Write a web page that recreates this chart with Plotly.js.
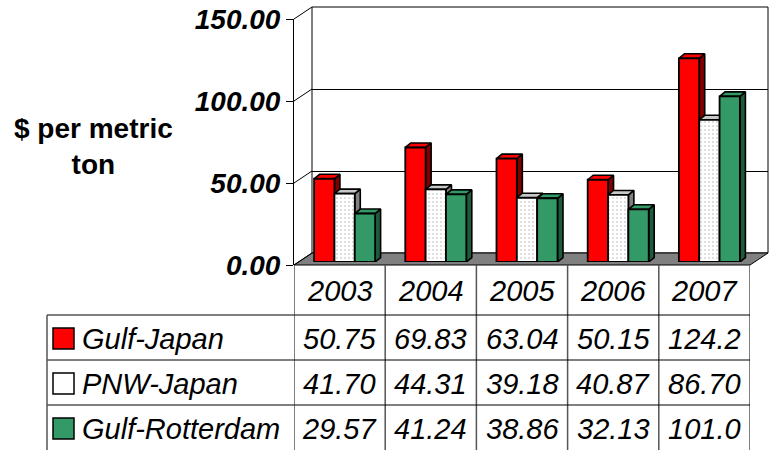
<!DOCTYPE html>
<html>
<head>
<meta charset="utf-8">
<script src="https://cdn.plot.ly/plotly-3.0.1.min.js"></script>
<style>
  html, body { margin: 0; padding: 0; background: #ffffff; }
  #chart { width: 771px; height: 450px; }
</style>
</head>
<body>
<div id="chart"></div>
<script>
// Ocean freight, $ per metric ton
const years = ['2003', '2004', '2005', '2006', '2007'];
const gulfJapan = [50.75, 69.83, 63.04, 50.15, 124.2];
const pnwJapan = [41.70, 44.31, 39.18, 40.87, 86.70];
const gulfRotterdam = [29.57, 41.24, 38.86, 32.13, 101.0];
const seriesNames = ['Gulf-Japan', 'PNW-Japan', 'Gulf-Rotterdam'];
const yTicks = [0, 50, 100, 150];
const yMax = 150;

const W = 771, H = 450;
const FONT = "'Liberation Sans', Arial, sans-serif";

// pixel frame of the 3-D box (front plane of the floor / axis)
const front = { x0: 294, x1: 750, yBase: 265, yTop: 19 };
const barPlane = { dx: 5, dy: 3 };   // bar fronts stand a little inside the floor
const backPlane = { dx: 18, dy: 12 }; // back wall offset
const depth = { dx: 5.5, dy: 4.5 };   // thickness of each bar
const pxPerCat = (front.x1 - front.x0) / years.length;
const pxPerUnit = (front.yBase - front.yTop) / yMax;

const px = p => p / W;
const py = p => 1 - p / H;
function planeDomain(dx, dy) {
  return {
    x: [px(front.x0 + dx), px(front.x1 + dx)],
    y: [py(front.yBase - dy), py(front.yTop - dy)]
  };
}
const dBack = planeDomain(backPlane.dx, backPlane.dy);
const dBars = planeDomain(barPlane.dx, barPlane.dy);
const dFront = planeDomain(0, 0);

// bar layout inside each year
const barW = 0.223;
const offsets = [-1.5 * barW, -0.5 * barW, 0.5 * barW];

const seriesValues = [gulfJapan, pnwJapan, gulfRotterdam];
const faceColors = ['#ff0000', '#ffffff', '#339966'];
const topColors = ['#ff0000', '#c8c8c8', '#339966'];
const sideColors = ['#800000', '#808080', '#1e5a3c'];

const traces = [];

// empty traces so the back wall and front axis subplots are drawn
traces.push({ type: 'scatter', x: [], y: [], xaxis: 'x', yaxis: 'y', hoverinfo: 'skip', showlegend: false });

// top and side faces of every bar (drawn before the fronts)
const ddx = depth.dx / pxPerCat;
const ddy = depth.dy / pxPerUnit;
seriesValues.forEach((vals, s) => {
  const sx = [], sy = [], tx = [], ty = [];
  vals.forEach((v, i) => {
    const left = i + offsets[s];
    const right = left + barW;
    sx.push(right, right + ddx, right + ddx, right, right, null);
    sy.push(0, ddy, v + ddy, v, 0, null);
    tx.push(left, left + ddx, right + ddx, right, left, null);
    ty.push(v, v + ddy, v + ddy, v, v, null);
  });
  const common = { type: 'scatter', mode: 'lines', fill: 'toself', xaxis: 'x2', yaxis: 'y2',
    line: { color: '#000000', width: 1.6 }, hoverinfo: 'skip', showlegend: false };
  traces.push(Object.assign({ x: sx, y: sy, fillcolor: sideColors[s] }, common));
  traces.push(Object.assign({ x: tx, y: ty, fillcolor: topColors[s] }, common));
});

// front faces
seriesValues.forEach((vals, s) => {
  const marker = { color: faceColors[s], line: { color: '#000000', width: 1.8 } };
  if (s === 1) {
    marker.pattern = { shape: '.', fgcolor: '#b4b4b4', bgcolor: '#ffffff', size: 4, solidity: 0.12, fillmode: 'replace' };
  }
  traces.push({
    type: 'bar', name: seriesNames[s], x: years, y: vals,
    width: barW, offset: offsets[s], marker: marker,
    xaxis: 'x3', yaxis: 'y3', cliponaxis: false, showlegend: false, hoverinfo: 'x+y'
  });
});

traces.push({ type: 'scatter', x: [], y: [], xaxis: 'x4', yaxis: 'y4', hoverinfo: 'skip', showlegend: false });

const hidden = { visible: false, fixedrange: true };

const shapes = [];
// back wall
shapes.push({ type: 'rect', xref: 'paper', yref: 'paper', layer: 'below',
  x0: dBack.x[0], x1: dBack.x[1], y0: dBack.y[0], y1: dBack.y[1],
  fillcolor: '#ffffff', line: { color: '#000000', width: 1 } });
// floor
const fl = [[front.x0, front.yBase], [front.x1, front.yBase],
            [front.x1 + backPlane.dx, front.yBase - backPlane.dy], [front.x0 + backPlane.dx, front.yBase - backPlane.dy]];
shapes.push({ type: 'path', xref: 'paper', yref: 'paper', layer: 'below',
  path: 'M' + fl.map(p => px(p[0]) + ',' + py(p[1])).join(' L') + ' Z',
  fillcolor: '#808080', line: { color: '#000000', width: 1 } });
// gridlines running across the open left wall
yTicks.forEach(v => {
  const yf = front.yBase - v * pxPerUnit;
  shapes.push({ type: 'line', xref: 'paper', yref: 'paper',
    x0: px(front.x0), y0: py(yf), x1: px(front.x0 + backPlane.dx), y1: py(yf - backPlane.dy),
    line: { color: '#000000', width: 1 } });
});

// data table
const tableLeft = 47, tableBottom = 452;
const rowEdges = [315, 360, 405];
const headerMid = 291;
const rowMids = [338.5, 383.5, 428.5];
for (let i = 0; i <= years.length; i++) {
  shapes.push({ type: 'line', xref: 'x4', yref: 'paper',
    x0: i - 0.5, x1: i - 0.5, y0: py(front.yBase), y1: py(tableBottom),
    line: { color: '#555555', width: 1.5 } });
}
rowEdges.forEach(y => {
  shapes.push({ type: 'line', xref: 'paper', yref: 'paper',
    x0: px(tableLeft), x1: px(front.x1), y0: py(y), y1: py(y),
    line: { color: '#000000', width: 1 } });
});
shapes.push({ type: 'line', xref: 'paper', yref: 'paper',
  x0: px(tableLeft), x1: px(tableLeft), y0: py(rowEdges[0]), y1: py(tableBottom),
  line: { color: '#555555', width: 1.5 } });
// legend keys
rowMids.forEach((y, s) => {
  shapes.push({ type: 'rect', xref: 'paper', yref: 'paper',
    x0: px(53), x1: px(74), y0: py(y - 10.5), y1: py(y + 10.5),
    fillcolor: faceColors[s], line: { color: '#000000', width: 1.5 } });
});

const italic = { family: FONT, size: 29, style: 'italic', color: '#000000' };
const annotations = [];
years.forEach((yr, i) => {
  annotations.push({ xref: 'x4', yref: 'paper', x: i, y: py(headerMid), text: yr,
    showarrow: false, xanchor: 'center', yanchor: 'middle', font: italic });
  seriesValues.forEach((vals, s) => {
    annotations.push({ xref: 'x4', yref: 'paper', x: i, y: py(rowMids[s]),
      text: vals[i].toPrecision(4), showarrow: false, xanchor: 'center', yanchor: 'middle', font: italic });
  });
});
seriesNames.forEach((n, s) => {
  annotations.push({ xref: 'paper', yref: 'paper', x: px(80), y: py(rowMids[s]), text: n,
    showarrow: false, xanchor: 'left', yanchor: 'middle', font: italic });
});
annotations.push({ xref: 'paper', yref: 'paper', x: px(93), y: py(146),
  text: '$ per metric<br>ton', showarrow: false, xanchor: 'center', yanchor: 'middle', align: 'center',
  font: { family: FONT, size: 28, weight: 'bold', color: '#000000' } });

const layout = {
  width: W, height: H,
  margin: { l: 0, r: 0, t: 0, b: 0, pad: 0 },
  paper_bgcolor: '#ffffff', plot_bgcolor: 'rgba(0,0,0,0)',
  showlegend: false, barmode: 'overlay',
  xaxis: Object.assign({ anchor: 'y', domain: dBack.x, range: [-0.5, 4.5] }, hidden),
  yaxis: { anchor: 'x', domain: dBack.y, range: [0, yMax], tickvals: yTicks, showgrid: true,
    gridcolor: '#000000', gridwidth: 1, showticklabels: false, ticks: '', zeroline: false,
    showline: false, fixedrange: true },
  xaxis2: Object.assign({ anchor: 'y2', domain: dBars.x, type: 'linear', range: [-0.5, 4.5] }, hidden),
  yaxis2: Object.assign({ anchor: 'x2', domain: dBars.y, range: [0, yMax] }, hidden),
  xaxis3: Object.assign({ anchor: 'y3', domain: dBars.x, type: 'category', categoryarray: years, range: [-0.5, 4.5] }, hidden),
  yaxis3: Object.assign({ anchor: 'x3', domain: dBars.y, range: [0, yMax] }, hidden),
  xaxis4: Object.assign({ anchor: 'y4', domain: dFront.x, type: 'linear', range: [-0.5, 4.5] }, hidden),
  yaxis4: { anchor: 'x4', domain: dFront.y, range: [0, yMax], tickvals: yTicks, tickformat: '.2f',
    ticks: 'outside', ticklen: 7, tickcolor: '#000000', tickwidth: 1,
    showline: true, linecolor: '#000000', linewidth: 1, showgrid: false, zeroline: false, fixedrange: true,
    tickfont: { family: FONT, size: 28, weight: 'bold', style: 'italic', color: '#000000' } },
  shapes: shapes,
  annotations: annotations
};

Plotly.newPlot('chart', traces, layout, { staticPlot: true, displayModeBar: false });
</script>
</body>
</html>
